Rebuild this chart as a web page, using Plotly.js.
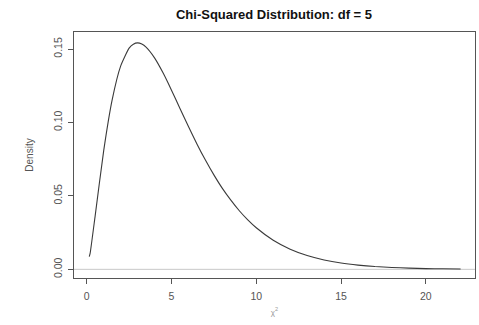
<!DOCTYPE html>
<html><head><meta charset="utf-8">
<script src="https://cdn.plot.ly/plotly-3.0.1.min.js"></script>
<style>html,body{margin:0;padding:0;background:#fff;}#chart{width:479px;height:325px;}</style>
</head><body><div id="chart"></div>
<script>
const chiX = [0.15, 0.2, 0.5, 1, 1.5, 2, 2.5, 2.75, 3, 3.25, 3.5, 4, 4.5, 5, 5.5, 6, 6.5, 7, 7.5, 8, 8.5, 9, 9.5, 10, 11, 12, 13, 14, 15, 16, 17, 18, 19, 20, 21, 22.05];
const density = [0.0086, 0.0108, 0.0366, 0.0807, 0.1154, 0.1384, 0.1506, 0.1533, 0.1542, 0.1534, 0.1513, 0.1440, 0.1338, 0.1220, 0.1095, 0.0973, 0.0854, 0.0744, 0.0643, 0.0551, 0.0471, 0.0399, 0.0337, 0.0283, 0.0198, 0.0137, 0.0094, 0.0064, 0.0043, 0.0029, 0.0019, 0.0013, 0.0008, 0.0005, 0.0004, 0.0002];
const xTicks = [0, 5, 10, 15, 20];
const yTicks = [0.00, 0.05, 0.10, 0.15];
const yTickText = ["0.00", "0.05", "0.10", "0.15"];

const traces = [
  {x: [-1, 24], y: [0, 0], mode: 'lines', line: {color: '#c8c8c8', width: 1}, hoverinfo: 'skip', showlegend: false},
  {x: chiX, y: density, mode: 'lines', line: {color: '#3a3a3a', width: 1.1, shape: 'spline', smoothing: 0.5}, showlegend: false}
];
const layout = {
  width: 479, height: 325,
  margin: {l: 74, r: 4, t: 32, b: 47},
  paper_bgcolor: '#fff', plot_bgcolor: '#fff',
  font: {family: 'Liberation Sans, Arial, sans-serif', color: '#555', size: 10},
  title: {text: '<b>Chi-Squared Distribution: df = 5</b>', font: {size: 13, color: '#111', family: 'Liberation Sans, Arial, sans-serif'}, x: 0.572, xanchor: 'center', y: 0.957, yanchor: 'middle'},
  xaxis: {
    range: [-0.75, 22.9], tickvals: xTicks, ticktext: xTicks.map(String),
    ticks: 'outside', ticklen: 5, tickcolor: '#555', tickwidth: 1, ticklabelstandoff: 3,
    showline: true, mirror: true, linecolor: '#555', linewidth: 1,
    showgrid: false, zeroline: false,
    tickfont: {size: 10.5, color: '#555'},
    title: {text: 'χ<sup>2</sup>', font: {size: 8, color: '#999'}, standoff: 8}
  },
  yaxis: {
    range: [-0.0059, 0.1616], tickvals: yTicks, ticktext: yTickText,
    ticks: 'outside', ticklen: 5, tickcolor: '#555', tickwidth: 1, tickangle: -90, ticklabelstandoff: 2,
    showline: true, mirror: true, linecolor: '#555', linewidth: 1,
    showgrid: false, zeroline: false,
    tickfont: {size: 10.5, color: '#555'},
    title: {text: 'Density', font: {size: 10, color: '#555'}, standoff: 16}
  }
};
Plotly.newPlot('chart', traces, layout, {displayModeBar: false, staticPlot: true});
</script></body></html>
